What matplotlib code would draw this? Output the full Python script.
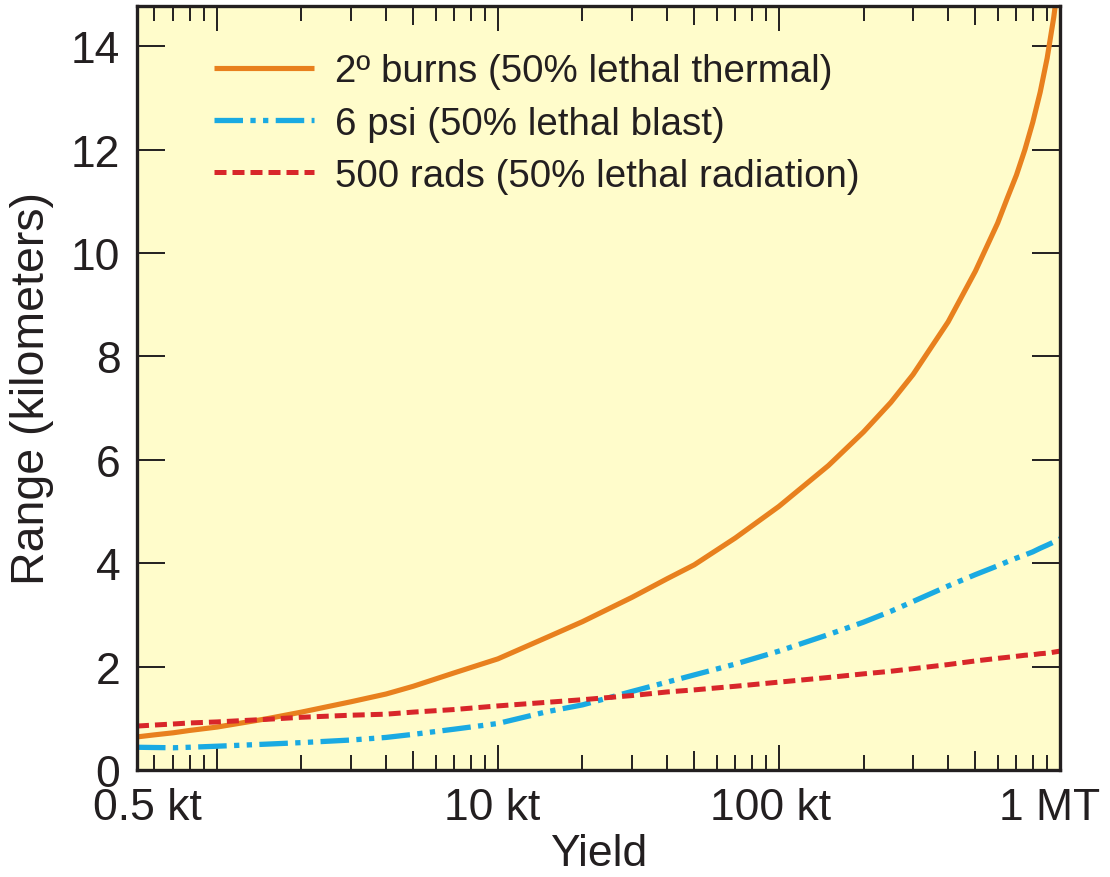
import matplotlib
matplotlib.use('Agg')
import matplotlib.pyplot as plt
import matplotlib.transforms as mtransforms
from matplotlib.ticker import FixedLocator, NullFormatter

# ---- data ----
yield_kt = [0.52, 0.6, 0.7, 0.8, 1, 1.5, 2, 3, 4, 5, 7, 10, 15, 20, 30, 40, 50, 70, 100,
            150, 200, 250, 300, 400, 500, 600, 650, 700, 750, 800, 850, 900, 950, 1000]
thermal_km = [0.64, 0.68, 0.72, 0.765, 0.83, 0.99, 1.12, 1.32, 1.47, 1.62, 1.88, 2.15, 2.57,
              2.87, 3.34, 3.7, 3.97, 4.49, 5.1, 5.89, 6.54, 7.11, 7.65, 8.67, 9.65, 10.58,
              11.07, 11.51, 12.0, 12.53, 13.11, 13.77, 14.56, 15.5]
blast_km = [0.44, 0.435, 0.43, 0.44, 0.46, 0.5, 0.53, 0.58, 0.63, 0.69, 0.79, 0.9, 1.13,
            1.26, 1.52, 1.7, 1.84, 2.05, 2.3, 2.62, 2.86, 3.07, 3.26, 3.56, 3.78, 3.95,
            4.03, 4.1, 4.16, 4.22, 4.29, 4.35, 4.41, 4.47]
rad_km = [0.85, 0.87, 0.89, 0.91, 0.93, 0.98, 1.02, 1.06, 1.08, 1.12, 1.17, 1.24, 1.31,
          1.36, 1.44, 1.51, 1.55, 1.62, 1.7, 1.79, 1.86, 1.91, 1.96, 2.04, 2.11, 2.16,
          2.18, 2.2, 2.22, 2.23, 2.25, 2.26, 2.28, 2.3]

series_labels = ['2º burns (50% lethal thermal)', '6 psi (50% lethal blast)',
                 '500 rads (50% lethal radiation)']

xtick_vals = [0.52, 1, 10, 100, 1000]
xtick_labels = ['0.5 kt', '', '10 kt', '100 kt', '1 MT']
mid_ticks = [5, 50, 500]
minor_ticks = [0.6, 0.7, 0.8, 0.9, 2, 3, 4, 6, 7, 8, 9, 20, 30, 40, 60, 70, 80, 90,
               200, 300, 400, 600, 700, 800, 900]
ytick_vals = [0, 2, 4, 6, 8, 10, 12, 14]

# ---- style ----
TXT = '#231F20'
BG = '#FFFCCB'
C_TH = '#E8801E'
C_BL = '#1AAAE2'
C_RD = '#D8262A'
plt.rcParams['font.family'] = ['Liberation Sans', 'DejaVu Sans']

fig = plt.figure(figsize=(11.1, 8.78), dpi=100)
ax = fig.add_axes([137/1110, 1-771/878, (1060-137)/1110, (771-7)/878])
ax.set_facecolor(BG)

ax.plot(yield_kt, thermal_km, color=C_TH, lw=3.7, solid_capstyle='butt',
        solid_joinstyle='round', label=series_labels[0])
ax.plot(yield_kt, blast_km, color=C_BL, lw=3.8,
        linestyle=(0, (5.4, 1.4, 1.0, 1.4, 1.0, 1.4)), label=series_labels[1])
ax.plot(yield_kt, rad_km, color=C_RD, lw=3.6, linestyle=(0, (2.4, 1.2)), label=series_labels[2])

ax.set_xscale('log')
ax.set_xlim(0.52, 1000)
ax.set_ylim(0, 14.78)

ax.xaxis.set_major_locator(FixedLocator(xtick_vals))
ax.set_xticklabels(xtick_labels)
ax.xaxis.set_minor_locator(FixedLocator(minor_ticks))
ax.xaxis.set_minor_formatter(NullFormatter())
ax.set_yticks(ytick_vals)
ax.set_yticklabels([str(v) for v in ytick_vals])

ax.tick_params(axis='x', which='major', direction='in', length=18, width=1.4,
               top=True, bottom=True, labelsize=32, colors=TXT, pad=12)
ax.tick_params(axis='x', which='minor', direction='in', length=10.5, width=1.4,
               top=True, bottom=True, colors=TXT)
ax.tick_params(axis='y', which='major', direction='in', length=20, width=1.4,
               left=True, right=True, labelsize=32, colors=TXT, pad=12)

for s in ax.spines.values():
    s.set_linewidth(2.4)
    s.set_color(TXT)
    s.set_zorder(5)

# medium ticks (5, 50, 500) on bottom and top
for loc in ['bottom', 'top']:
    sec = ax.secondary_xaxis(loc)
    sec.set_xticks(mid_ticks)
    sec.set_xticklabels([])
    sec.xaxis.set_minor_locator(FixedLocator([]))
    sec.tick_params(axis='x', which='major', direction='in', length=14, width=1.4, colors=TXT)
    sec.spines[loc].set_visible(False)

# small horizontal offsets of tick labels as in the reference
for lab, dx in zip(ax.get_xticklabels(), [10, 0, -6, -8, -10]):
    lab.set_transform(lab.get_transform() + mtransforms.ScaledTranslation(dx/100, 0, fig.dpi_scale_trans))

ax.set_xlabel('Yield', fontsize=32, color=TXT, labelpad=4)
ax.set_ylabel('Range (kilometers)', fontsize=33.5, color=TXT, labelpad=12)

leg = ax.legend(loc='upper left', bbox_to_anchor=(0.083, 0.938), frameon=False,
                fontsize=27.7, handlelength=2.6, handletextpad=0.55, labelspacing=0.42,
                borderpad=0, borderaxespad=0)
for t in leg.get_texts():
    t.set_color(TXT)

fig.savefig('out.png', dpi=100, facecolor='white')
